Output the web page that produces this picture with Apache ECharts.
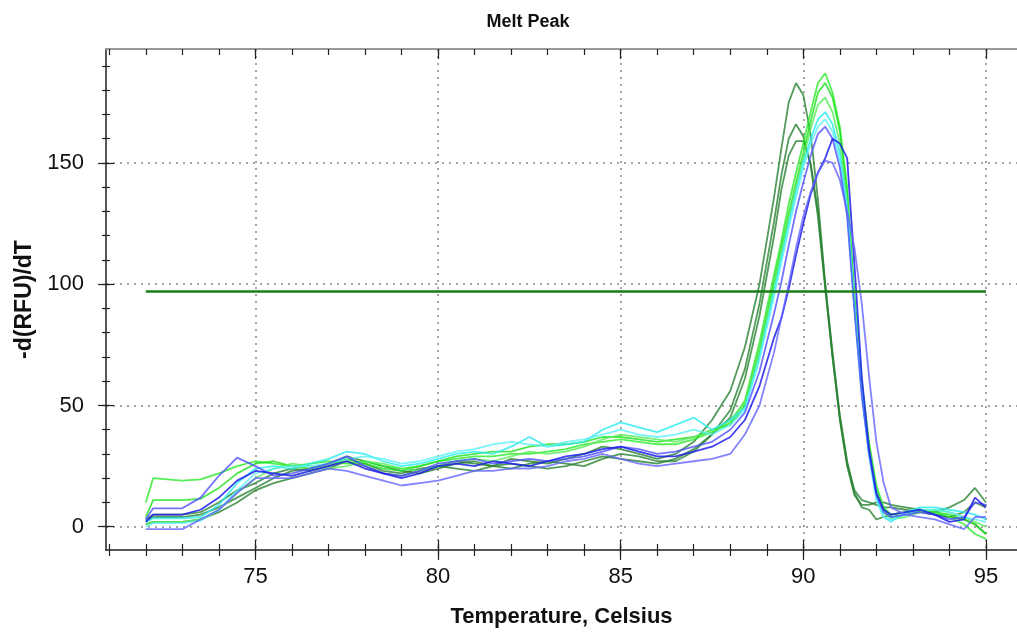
<!DOCTYPE html>
<html><head><meta charset="utf-8">
<script src="https://cdn.jsdelivr.net/npm/echarts@6/dist/echarts.min.js"></script>
<style>html,body{margin:0;padding:0;background:#fff}#c{width:1017px;height:633px}</style>
</head><body><div id="c"></div>
<script>
// ---- data ----
const temps = [72, 72.2, 73, 73.5, 74, 74.5, 75, 75.5, 76, 76.5, 77, 77.5, 78, 78.5, 79, 79.5, 80, 80.5, 81, 81.5, 82, 82.5, 83, 83.5, 84, 84.5, 85, 85.5, 86, 86.5, 87, 87.5, 88,
  88.4, 88.8, 89.2, 89.4, 89.6, 89.8, 90.0, 90.2, 90.4, 90.6, 90.8, 91.0, 91.2, 91.4, 91.6, 91.8, 92.0, 92.2, 92.4, 92.8, 93.2, 93.6, 94.0, 94.4, 94.7, 95.0];
const xLabelTicks = [75, 80, 85, 90, 95];
const xMinorTicks = [71,72,73,74,75,76,77,78,79,80,81,82,83,84,85,86,87,88,89,90,91,92,93,94,95];
const yLabelTicks = [0, 50, 100, 150];
const yMinorTicks = [-10,0,10,20,30,40,50,60,70,80,90,100,110,120,130,140,150,160,170,180,190];
const thresholdValue = 97;
const thresholdRange = [72, 95];

const darkGreenA = [3,5,5,6,10,15,18,22,24,23, 25,28,26,23,22,24,25,27,26,25, 28,27,26,28,30,33,32,30,28,30, 35,44,56,
  74,100,136,156,175,183,178,162,135,100, 72,46,27,14,8,7,3,4,5,6, 6,5,4,6,10,8];
const darkGreenB = [2,4,4,5,8,12,16,20,23,24, 26,29,27,25,23,22,24,26,27,25, 24,26,27,26,25,28,30,29,27,27, 31,38,48,
  65,92,126,145,160,166,161,149,128,98, 70,44,25,13,9,9,10,10,9,8, 7,6,8,11,16,10];
const darkGreenC = [1,2,2,3,6,10,15,18,20,22, 24,27,25,22,21,23,25,24,23,25, 26,25,24,25,27,29,28,27,26,28, 32,38,45,
  61,87,120,139,153,159,159,150,130,100, 70,45,26,15,11,10,9,8,8,7, 6,5,4,3,1,-3];
const greenD = [10,20,19,19.5,22,25,27,26,25,26, 27,26,27,25,24,25,27,28,29,29, 30,30,31,32,34,35,36,35,34,34, 36,39,43,
  52,76,104,118,133,146,158,171,183,187, 179,165,140,96,60,35,17,8,5,6, 7,6,4,1,-3,-5];
const greenE = [4,11,11,11.5,16,22,26,27,25,24, 26,28,26,24,23,25,27,29,30,31, 31,33,34,34,35,37,37,36,35,36, 37,40,42,
  50,73,101,115,129,142,154,167,179,183, 177,163,137,93,58,33,15,7,4,5, 6,6,5,3,1,-3];
const greenF = [1,2,2,3,7,14,20,24,26,25, 24,25,27,26,24,23,25,27,28,27, 29,31,30,31,33,36,38,37,36,35, 37,39,44,
  51,72,99,113,127,140,152,164,174,177, 171,158,134,92,57,32,14,6,3,4, 6,7,6,4,2,0];
const cyanG = [2,3.5,3.5,4,9,18,24,25,24,26, 28,31,30,27,25,26,28,30,31,30, 33,37,33,34,35,40,43,41,39,42, 45,40,44,
  49,70,97,111,125,138,150,160,168,171, 166,154,132,91,56,30,12,4,2,6, 8,8,7,6,5,3];
const cyanH = [0,1.5,1.5,2.5,7,15,22,24,25,25, 26,28,29,28,26,27,29,31,32,34, 35,34,33,35,36,38,40,38,37,38, 40,38,42,
  48,69,95,109,123,136,148,158,165,168, 163,151,130,90,55,29,11,4,3,5, 7,7,6,4,3,2];
const blueI = [3,7.6,7.6,12,21,28.5,25,21,22,24, 26,29,25,22,21,23,26,27,28,26, 27,28,27,28,29,31,33,32,30,31, 33,35,40,
  47,64,88,101,116,130,142,153,162,165, 160,148,128,89,54,30,13,6,4,5, 6,5,3,4,10,9];
const blueJ = [2,5,5,7,12,19,23,22,21,23, 25,27,24,22,20,22,25,26,25,27, 26,25,27,29,30,32,33,31,29,29, 31,33,37,
  44,58,78,86,98,112,125,137,146,152, 160,158,152,108,62,32,14,7,5,6, 7,5,2,3,12,8];
const blueK = [-1,-1,-1,3,7,14,20,20,20,22, 24,23,21,19,17,18,19,21,23,23, 24,24,25,27,28,30,28,26,25,26, 27,28,30,
  38,50,72,86,100,115,128,138,146,151, 150,143,130,115,92,62,35,18,8,5, 4,3,1,-1,4,4];

// ---- styles ----
const curves = [
  [darkGreenA, 'rgba(40,130,50,0.8)'],
  [darkGreenB, 'rgba(40,130,50,0.8)'],
  [darkGreenC, 'rgba(40,130,50,0.8)'],
  [greenD, 'rgba(40,235,40,0.8)'],
  [greenE, 'rgba(30,225,30,0.8)'],
  [greenF, 'rgba(90,235,90,0.8)'],
  [cyanG, 'rgba(40,235,240,0.8)'],
  [cyanH, 'rgba(90,240,245,0.8)'],
  [blueI, 'rgba(80,80,255,0.8)'],
  [blueJ, 'rgba(30,30,235,0.85)'],
  [blueK, 'rgba(100,100,255,0.8)']
];
const FONT = "'Liberation Sans', Arial, sans-serif";
const X_MIN = 70.91, X_MAX = 95.85, Y_MIN = -9.6, Y_MAX = 197;
const AX = '#222';

function xAx(pos, ticks, len, inside, extra) {
  return Object.assign({
    type: 'value', position: pos, min: X_MIN, max: X_MAX,
    axisLine: { show: false, onZero: false },
    axisLabel: { show: false }, splitLine: { show: false },
    axisTick: { show: true, customValues: ticks, length: len, inside: inside, lineStyle: { color: AX, width: 1.2 } }
  }, extra || {});
}
function yAx(ticks, len, inside, extra) {
  return Object.assign({
    type: 'value', position: 'left', min: Y_MIN, max: Y_MAX,
    axisLine: { show: false, onZero: false },
    axisLabel: { show: false }, splitLine: { show: false },
    axisTick: { show: true, customValues: ticks, length: len, inside: inside, lineStyle: { color: AX, width: 1.2 } }
  }, extra || {});
}

const xAxes = [
  xAx('bottom', xLabelTicks, 10, false, {
    axisLine: { show: true, onZero: false, lineStyle: { color: AX, width: 1.5 } },
    axisLabel: { show: true, customValues: xLabelTicks, margin: 16, fontFamily: FONT, fontSize: 22, color: '#111' },
    splitLine: { show: true, lineStyle: { type: [2, 5], color: '#888', width: 1.5 } },
    name: 'Temperature, Celsius', nameLocation: 'middle', nameGap: 56,
    nameTextStyle: { fontFamily: FONT, fontSize: 22, fontWeight: 'bold', color: '#111' }
  }),
  xAx('bottom', xLabelTicks, 10, true),
  xAx('bottom', xMinorTicks, 6, false),
  xAx('bottom', xMinorTicks, 6, true),
  xAx('top', xLabelTicks, 10, true, { axisLine: { show: true, onZero: false, lineStyle: { color: '#999', width: 2 } } }),
  xAx('top', xMinorTicks, 6, true)
];
const yAxes = [
  yAx(yLabelTicks, 8, false, {
    axisLine: { show: true, onZero: false, lineStyle: { color: AX, width: 1.5 } },
    axisLabel: { show: true, customValues: yLabelTicks, margin: 22, fontFamily: FONT, fontSize: 22, color: '#111' },
    splitLine: { show: true, lineStyle: { type: [2, 5], color: '#888', width: 1.5 } },
    name: '-d(RFU)/dT', nameLocation: 'middle', nameGap: 63, nameRotate: 90,
    nameTextStyle: { fontFamily: FONT, fontSize: 23, fontWeight: 'bold', color: '#111' }
  }),
  yAx(yLabelTicks, 8, true),
  yAx(yMinorTicks, 4, false),
  yAx(yMinorTicks, 4, true)
];

const series = curves.map(([ys, color]) => ({
  type: 'line', xAxisIndex: 0, yAxisIndex: 0, showSymbol: false, symbol: 'none', silent: true,
  data: temps.map((t, i) => [t, ys[i]]),
  lineStyle: { color: color, width: 1.8 }
}));
series.push({
  type: 'line', xAxisIndex: 0, yAxisIndex: 0, showSymbol: false, symbol: 'none', silent: true,
  data: thresholdRange.map(t => [t, thresholdValue]),
  lineStyle: { color: '#1a7d1a', width: 2.5 }, z: 5
});

const chart = echarts.init(document.getElementById('c'), null, { renderer: 'canvas' });
chart.setOption({
  animation: false,
  backgroundColor: '#fff',
  grid: { left: 106, right: 0, top: 49, bottom: 83, containLabel: false },
  xAxis: xAxes,
  yAxis: yAxes,
  graphic: [{
    type: 'text', x: 528, y: 22,
    style: { text: 'Melt Peak', textAlign: 'center', textVerticalAlign: 'middle', font: "bold 18px 'Liberation Sans', Arial, sans-serif", fill: '#111' }
  }],
  series: series
});
</script>
</body></html>
